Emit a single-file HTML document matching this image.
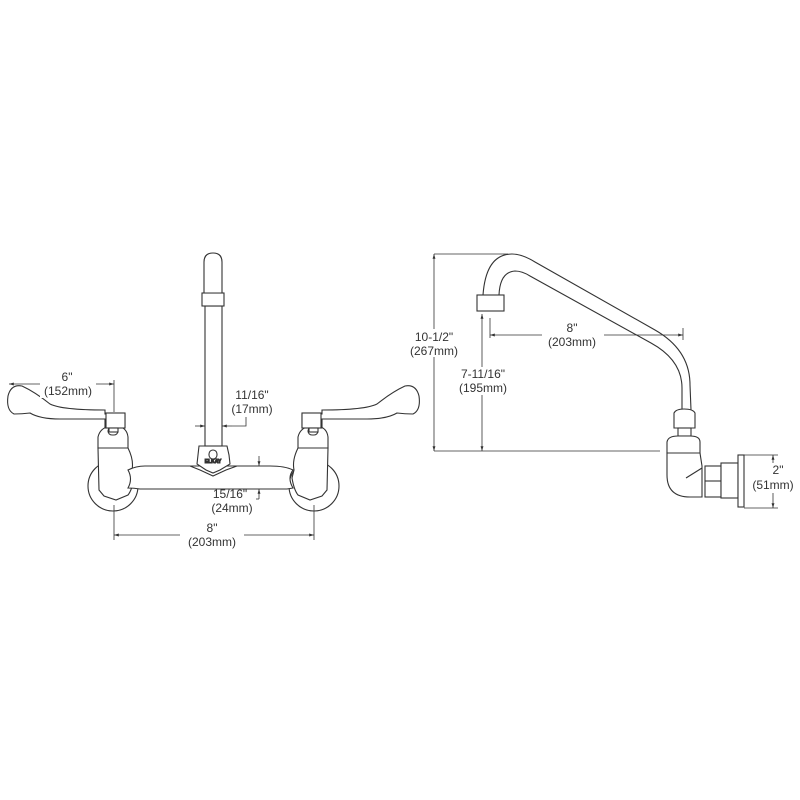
<!DOCTYPE html>
<html><head><meta charset="utf-8"><style>
html,body{margin:0;padding:0;background:#fff}
svg{display:block}
text{font-family:"Liberation Sans",sans-serif;font-size:12px;fill:#333;text-anchor:middle}
</style></head><body>
<svg width="800" height="800" viewBox="0 0 800 800" xmlns="http://www.w3.org/2000/svg">
<defs>
<marker id="a" viewBox="0 0 10 10" refX="10" refY="5" markerWidth="6" markerHeight="6" orient="auto-start-reverse"><path d="M0,2 L10,5 L0,8 z" fill="#333"/></marker>
</defs>
<g fill="#fff" stroke="#333" stroke-width="1.1">
<circle cx="113" cy="486" r="25"/>
<circle cx="314" cy="486" r="25"/>
<path d="M98,437 Q100,428 110,426 L118,426 Q127,428 128,437 L128,448 L98,448 z"/>
<rect x="108" y="427" width="10" height="8" rx="4"/>
<path d="M98,448 L128,448 Q134,460 132,470 L134,478 Q132,490 128,495 L116,500 L104,496 L99,490 z"/>
<path d="M298,437 Q300,428 310,426 L318,426 Q327,428 328,437 L328,448 L298,448 z"/>
<rect x="308" y="427" width="10" height="8" rx="4"/>
<path d="M298,448 L328,448 L327,490 L322,496 L310,500 L298,495 Q294,490 292,478 L294,470 Q292,460 298,448 z"/>
<path d="M128,470 Q136,466 145,466 L270,466 Q285,466 293,470 Q287,478 293,488 L287,489 L140,489 Q134,488 128,488 Q133,479 128,470 z"/>
<path d="M199,446 L227,446 L229,455 L230,464 L220,470 L213,473 L206,470 L197,464 L198,455 z"/>
<path d="M190,466 L200,470 L213,476 L226,470 L237,466" fill="none"/>
<rect x="209" y="450" width="8" height="9" rx="4"/>
<text x="213" y="463" style="font-size:5px;font-weight:bold">ELKAY</text>
<rect x="205" y="306" width="17" height="140"/>
<rect x="202" y="293" width="22" height="13"/>
<path d="M204,293 L204,262 Q204,253 213,253 Q222,253 222,262 L222,293 z"/>
<path d="M125,414 L125,428 L105,428 L105,419 L60,419 Q40,419 30,413 Q22,414 14,414 Q6,410 8,396 Q11,384 22,386 Q35,392 50,404 Q62,410 105,410 L105,414 z"/>
<rect x="106" y="413" width="19" height="15"/>
<rect x="109" y="428" width="9" height="4"/>
<path d="M302,414 L302,428 L322,428 L322,419 L367,419 Q387,419 397,413 Q405,414 413,414 Q421,410 419,396 Q416,384 405,386 Q392,392 377,404 Q365,410 322,410 L322,414 z"/>
<rect x="302" y="413" width="19" height="15"/>
<rect x="309" y="428" width="9" height="4"/>

<path d="M483,295 Q486,254 512,254 Q522,254 535,262 L655,330 Q690,350 690,385 L691,410 L682,410 L682,388 Q682,360 651,343 L530,276 Q522,271 515,271 Q500,272 499,295 z"/>
<rect x="477" y="295" width="27" height="16"/>
<path d="M674,413 Q676,409 684,409 Q693,409 695,413 L695,428 L674,428 z"/>
<rect x="678" y="428" width="13" height="8"/>
<path d="M667,442 Q668,436 678,436 L690,436 Q700,436 700,442 L700,453 L667,453 z"/>
<path d="M667,453 L700,453 L702,466 L702,497 L690,497 Q667,497 667,475 z"/>
<path d="M686,478 L702,468" fill="none"/>
<rect x="705" y="466" width="16" height="31"/>
<line x1="705" y1="481" x2="721" y2="481"/>
<rect x="721" y="463" width="17" height="35"/>
<rect x="738" y="455" width="6" height="52"/>
</g>

<g stroke="#333" stroke-width="0.8" fill="none">
<line x1="9" y1="384" x2="114" y2="384" marker-start="url(#a)" marker-end="url(#a)"/>
<line x1="114" y1="380" x2="114" y2="412"/>
<line x1="195" y1="426" x2="205" y2="426" marker-end="url(#a)"/>
<line x1="232" y1="426" x2="222" y2="426" marker-end="url(#a)"/>
<polyline points="232,426 246,426 246,417"/>
<line x1="259" y1="456" x2="259" y2="466" marker-end="url(#a)"/>
<polyline points="259,499 259,489" marker-end="url(#a)"/>
<line x1="256" y1="499" x2="259" y2="499"/>
<line x1="114" y1="505" x2="114" y2="540"/>
<line x1="314" y1="505" x2="314" y2="540"/>
<line x1="114" y1="535" x2="314" y2="535" marker-start="url(#a)" marker-end="url(#a)"/>
<line x1="434" y1="254" x2="508" y2="254"/>
<line x1="434" y1="451" x2="660" y2="451"/>
<line x1="434" y1="254" x2="434" y2="451" marker-start="url(#a)" marker-end="url(#a)"/>
<line x1="482" y1="314" x2="482" y2="451" marker-start="url(#a)" marker-end="url(#a)"/>
<line x1="490" y1="318" x2="490" y2="338"/>
<line x1="490" y1="335" x2="683" y2="335" marker-start="url(#a)" marker-end="url(#a)"/>
<line x1="683" y1="328" x2="683" y2="340"/>
<line x1="744" y1="455" x2="778" y2="455"/>
<line x1="744" y1="508" x2="778" y2="508"/>
<line x1="773" y1="455" x2="773" y2="508" marker-start="url(#a)" marker-end="url(#a)"/>
</g>

<g>
<rect x="40" y="370" width="56" height="28" fill="#fff"/>
<text x="67" y="381">6"</text><text x="68" y="395">(152mm)</text>
<text x="252" y="399">11/16"</text><text x="252" y="413">(17mm)</text>
<text x="230" y="498">15/16"</text><text x="232" y="512">(24mm)</text>
<rect x="180" y="521" width="64" height="28" fill="#fff"/>
<text x="212" y="532">8"</text><text x="212" y="546">(203mm)</text>
<rect x="405" y="329" width="60" height="28" fill="#fff"/>
<text x="434" y="341">10-1/2"</text><text x="434" y="355">(267mm)</text>
<rect x="452" y="367" width="62" height="28" fill="#fff"/>
<text x="483" y="378">7-11/16"</text><text x="483" y="392">(195mm)</text>
<rect x="542" y="325" width="62" height="24" fill="#fff"/>
<text x="572" y="332">8"</text><text x="572" y="346">(203mm)</text>
<rect x="750" y="463" width="46" height="30" fill="#fff"/>
<text x="778" y="474">2"</text><text x="773" y="489">(51mm)</text>
</g>
</svg>
</body></html>
